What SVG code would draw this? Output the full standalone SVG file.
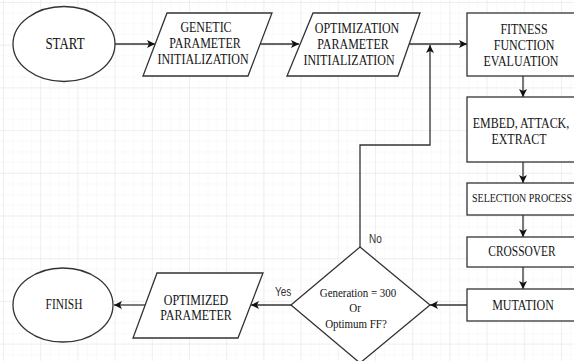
<svg xmlns="http://www.w3.org/2000/svg" width="574" height="361" viewBox="0 0 574 361">
<style>
.shape{fill:#fff;stroke:#333;stroke-width:1.3}
.t{font-family:"Liberation Serif","Times New Roman",serif;font-size:14.8px;fill:#141414;text-anchor:middle;dominant-baseline:central}
.lbl{font-family:"Liberation Sans",Arial,sans-serif;font-size:12.3px;fill:#333;dominant-baseline:central}
.c{fill:none;stroke:#333;stroke-width:1.3}
</style>
<defs>
<pattern id="minor" width="9.3" height="10.675" patternUnits="userSpaceOnUse" x="3" y="2">
<path d="M0,0 V10.675 M0,0 H9.3" fill="none" stroke="#f3f3f3" stroke-width="1"/>
</pattern>
<pattern id="major" width="37.2" height="42.7" patternUnits="userSpaceOnUse" x="3" y="2">
<path d="M0,0 V42.7 M0,0 H37.2" fill="none" stroke="#e6e6e6" stroke-width="1"/>
</pattern>
<marker id="ah" viewBox="0 0 10 10" refX="10" refY="5" markerWidth="8" markerHeight="8" markerUnits="userSpaceOnUse" orient="auto">
<path d="M0,0 L10,5 L0,10 L2.5,5 Z" fill="#111"/>
</marker>
</defs>
<rect width="574" height="361" fill="#fff"/>
<rect width="574" height="361" fill="url(#minor)"/>
<rect width="574" height="361" fill="url(#major)"/>

<g id="connectors">
<path class="c" d="M115,44 H155" marker-end="url(#ah)"/>
<path class="c" d="M260,44 H299" marker-end="url(#ah)"/>
<path class="c" d="M409,44 H467" marker-end="url(#ah)"/>
<path class="c" d="M360,247 V145 H430 V45" marker-end="url(#ah)"/>
<path class="c" d="M523,76 V97" marker-end="url(#ah)"/>
<path class="c" d="M523,162 V183" marker-end="url(#ah)"/>
<path class="c" d="M523,215 V237" marker-end="url(#ah)"/>
<path class="c" d="M523,267 V289" marker-end="url(#ah)"/>
<path class="c" d="M467,305 H430" marker-end="url(#ah)"/>
<path class="c" d="M291,305 H251" marker-end="url(#ah)"/>
<path class="c" d="M145,305 H114" marker-end="url(#ah)"/>
<text class="lbl" transform="matrix(0.81,0,0,1,369,239)">No</text>
<text class="lbl" transform="matrix(0.81,0,0,1,275,292)">Yes</text>
</g>

<g id="start">
<ellipse class="shape" cx="64" cy="44" rx="51" ry="37.5"/>
<text class="t" transform="matrix(0.81,0,0,1,65,44)" style="font-size:16px">START</text>
</g>

<g id="genetic">
<polygon class="shape" points="167,13 272,13 248,76 143,76"/>
<text class="t" transform="matrix(0.81,0,0,1,206,27)">GENETIC</text>
<text class="t" transform="matrix(0.81,0,0,1,205,43)">PARAMETER</text>
<text class="t" transform="matrix(0.81,0,0,1,203,59)">INITIALIZATION</text>
</g>

<g id="optimization">
<polygon class="shape" points="313,13 420,13 398,76 287,76"/>
<text class="t" transform="matrix(0.81,0,0,1,357,28)">OPTIMIZATION</text>
<text class="t" transform="matrix(0.81,0,0,1,353,44)">PARAMETER</text>
<text class="t" transform="matrix(0.81,0,0,1,349,60)">INITIALIZATION</text>
</g>

<g id="fitness">
<rect class="shape" x="467" y="13" width="115" height="63"/>
<text class="t" transform="matrix(0.81,0,0,1,524,29)">FITNESS</text>
<text class="t" transform="matrix(0.81,0,0,1,524,45)">FUNCTION</text>
<text class="t" transform="matrix(0.81,0,0,1,521,61)">EVALUATION</text>
</g>

<g id="embed">
<rect class="shape" x="467" y="97" width="115" height="65"/>
<text class="t" transform="matrix(0.81,0,0,1,521,123)">EMBED, ATTACK,</text>
<text class="t" transform="matrix(0.81,0,0,1,519,139)">EXTRACT</text>
</g>

<g id="selection">
<rect class="shape" x="467" y="183" width="115" height="32"/>
<text class="t" transform="matrix(0.81,0,0,1,522,198)" style="font-size:12.3px">SELECTION PROCESS</text>
</g>

<g id="crossover">
<rect class="shape" x="467" y="237" width="115" height="30"/>
<text class="t" transform="matrix(0.81,0,0,1,522,252)" style="font-size:14.1px">CROSSOVER</text>
</g>

<g id="mutation">
<rect class="shape" x="467" y="289" width="115" height="32"/>
<text class="t" transform="matrix(0.81,0,0,1,523,305)">MUTATION</text>
</g>

<g id="decision">
<polygon class="shape" points="360,247 430,305 360,363 291,305"/>
<text class="t" transform="matrix(0.81,0,0,1,358,293)" style="font-size:13.5px">Generation = 300</text>
<text class="t" transform="matrix(0.81,0,0,1,355,308)" style="font-size:13.5px">Or</text>
<text class="t" transform="matrix(0.81,0,0,1,356,324)" style="font-size:13.5px">Optimum FF?</text>
</g>

<g id="optimized">
<polygon class="shape" points="157,273 263,273 238,338 133,338"/>
<text class="t" transform="matrix(0.81,0,0,1,196,300)">OPTIMIZED</text>
<text class="t" transform="matrix(0.81,0,0,1,196,315)">PARAMETER</text>
</g>

<g id="finish">
<ellipse class="shape" cx="63" cy="305" rx="50" ry="37"/>
<text class="t" transform="matrix(0.81,0,0,1,64,305)" style="font-size:14.1px">FINISH</text>
</g>
</svg>
